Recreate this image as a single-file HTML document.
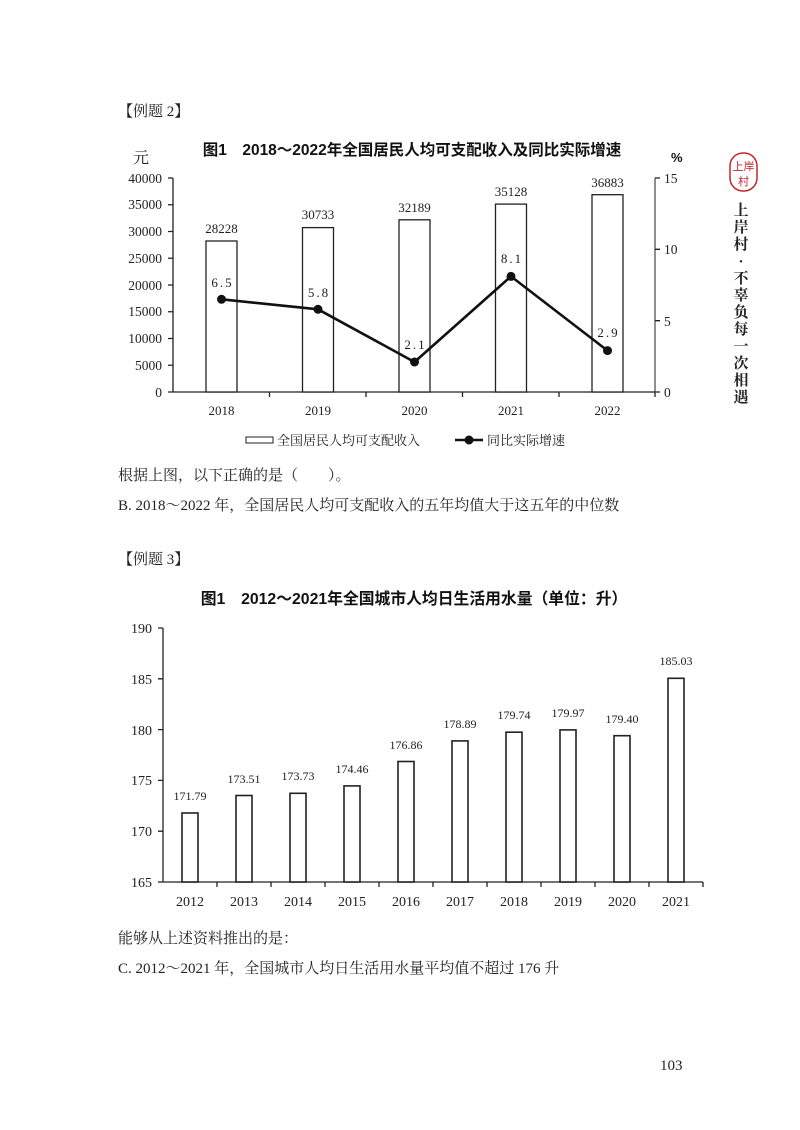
<!DOCTYPE html>
<html><head><meta charset="utf-8"><style>
body{margin:0;background:#fff}
svg{display:block}
.s{font-family:"Liberation Serif","Noto Serif CJK SC",serif;fill:#222}
.b{font-family:"Liberation Sans","Noto Sans CJK SC",sans-serif;font-weight:bold;fill:#111}
</style></head><body>
<svg width="800" height="1130" viewBox="0 0 800 1130" xmlns="http://www.w3.org/2000/svg">
<rect width="800" height="1130" fill="#fff"/>
<text class="s" x="118" y="116" font-size="15">【例题 2】</text>
<text class="b" x="412" y="155" font-size="15.5" text-anchor="middle">图1　2018～2022年全国居民人均可支配收入及同比实际增速</text>
<text class="s" x="133" y="163" font-size="16">元</text>
<text class="b" x="671" y="162" font-size="13">%</text>
<g stroke="#222" stroke-width="1.3" fill="none">
<line x1="173" y1="178" x2="173" y2="392"/>
<line x1="655" y1="178" x2="655" y2="392" stroke="#555"/>
<line x1="173" y1="392" x2="655" y2="392"/>
<path d="M168 178h5M168 204.75h5M168 231.5h5M168 258.25h5M168 285h5M168 311.75h5M168 338.5h5M168 365.25h5M168 392h5"/>
<path d="M655 178h5M655 249.3h5M655 320.7h5M655 392h5"/>
<path d="M269.5 392v5M366 392v5M462.5 392v5M559 392v5M655 392v5"/>
<rect x="206" y="241" width="31" height="151" fill="#fff"/>
<rect x="302.5" y="227.6" width="31" height="164.4" fill="#fff"/>
<rect x="399" y="219.8" width="31" height="172.2" fill="#fff"/>
<rect x="495.5" y="204.1" width="31" height="187.9" fill="#fff"/>
<rect x="592" y="194.7" width="31" height="197.3" fill="#fff"/>
<polyline points="221.5,299.3 318,309.3 414.5,362 511,276.4 607.5,350.6" stroke="#111" stroke-width="2.6"/>
</g>
<g fill="#111"><circle cx="221.5" cy="299.3" r="4.5"/><circle cx="318" cy="309.3" r="4.5"/><circle cx="414.5" cy="362" r="4.5"/><circle cx="511" cy="276.4" r="4.5"/><circle cx="607.5" cy="350.6" r="4.5"/></g>
<g class="s" font-size="13.5" text-anchor="end">
<text x="162" y="183">40000</text><text x="162" y="209">35000</text><text x="162" y="236">30000</text><text x="162" y="263">25000</text><text x="162" y="290">20000</text><text x="162" y="316">15000</text><text x="162" y="343">10000</text><text x="162" y="370">5000</text><text x="162" y="397">0</text>
</g>
<g class="s" font-size="13.5">
<text x="664" y="183">15</text><text x="664" y="254">10</text><text x="664" y="326">5</text><text x="664" y="397">0</text>
</g>
<g class="s" font-size="13" text-anchor="middle">
<text x="221.5" y="233">28228</text><text x="318" y="219">30733</text><text x="414.5" y="212">32189</text><text x="511" y="196">35128</text><text x="607.5" y="187">36883</text>
<text x="221.5" y="415">2018</text><text x="318" y="415">2019</text><text x="414.5" y="415">2020</text><text x="511" y="415">2021</text><text x="607.5" y="415">2022</text>
</g>
<g class="s" font-size="13" text-anchor="middle" letter-spacing="2">
<text x="222.5" y="287">6.5</text><text x="319" y="297">5.8</text><text x="415.5" y="349">2.1</text><text x="512" y="263">8.1</text><text x="608.5" y="337">2.9</text>
</g>
<rect x="246" y="437" width="27" height="6" fill="#fff" stroke="#222" stroke-width="1"/>
<text class="s" x="277" y="445" font-size="13">全国居民人均可支配收入</text>
<line x1="455" y1="440" x2="483" y2="440" stroke="#111" stroke-width="2.6"/><circle cx="469" cy="440" r="4.5" fill="#111"/>
<text class="s" x="487" y="445" font-size="13">同比实际增速</text>
<text class="s" x="118" y="480" font-size="15">根据上图，以下正确的是（　　）。</text>
<text class="s" x="118" y="510" font-size="15">B. 2018～2022 年，全国居民人均可支配收入的五年均值大于这五年的中位数</text>
<text class="s" x="118" y="564" font-size="15">【例题 3】</text>
<text class="b" x="414" y="604" font-size="15.8" text-anchor="middle">图1　2012～2021年全国城市人均日生活用水量（单位：升）</text>
<g stroke="#222" stroke-width="1.3" fill="none">
<line x1="163" y1="628" x2="163" y2="882"/>
<line x1="163" y1="882" x2="703" y2="882"/>
<path d="M158 628h5M158 678.8h5M158 729.6h5M158 780.4h5M158 831.2h5M158 882h5"/>
<path d="M217 882v5M271 882v5M325 882v5M379 882v5M433 882v5M487 882v5M541 882v5M595 882v5M649 882v5M703 882v5"/>
<rect x="182" y="813" width="16" height="69" fill="#fff" stroke-width="1.6"/>
<rect x="236" y="795.5" width="16" height="86.5" fill="#fff" stroke-width="1.6"/>
<rect x="290" y="793.3" width="16" height="88.7" fill="#fff" stroke-width="1.6"/>
<rect x="344" y="785.9" width="16" height="96.1" fill="#fff" stroke-width="1.6"/>
<rect x="398" y="761.5" width="16" height="120.5" fill="#fff" stroke-width="1.6"/>
<rect x="452" y="740.9" width="16" height="141.1" fill="#fff" stroke-width="1.6"/>
<rect x="506" y="732.2" width="16" height="149.8" fill="#fff" stroke-width="1.6"/>
<rect x="560" y="729.9" width="16" height="152.1" fill="#fff" stroke-width="1.6"/>
<rect x="614" y="735.7" width="16" height="146.3" fill="#fff" stroke-width="1.6"/>
<rect x="668" y="678.3" width="16" height="203.7" fill="#fff" stroke-width="1.6"/>
</g>
<g class="s" font-size="14" text-anchor="end">
<text x="152" y="633">190</text><text x="152" y="684">185</text><text x="152" y="735">180</text><text x="152" y="785">175</text><text x="152" y="836">170</text><text x="152" y="887">165</text>
</g>
<g class="s" font-size="12" text-anchor="middle">
<text x="190" y="800">171.79</text><text x="244" y="783">173.51</text><text x="298" y="780">173.73</text><text x="352" y="773">174.46</text><text x="406" y="749">176.86</text><text x="460" y="728">178.89</text><text x="514" y="719">179.74</text><text x="568" y="717">179.97</text><text x="622" y="723">179.40</text><text x="676" y="665">185.03</text>
</g>
<g class="s" font-size="14" text-anchor="middle">
<text x="190" y="906">2012</text><text x="244" y="906">2013</text><text x="298" y="906">2014</text><text x="352" y="906">2015</text><text x="406" y="906">2016</text><text x="460" y="906">2017</text><text x="514" y="906">2018</text><text x="568" y="906">2019</text><text x="622" y="906">2020</text><text x="676" y="906">2021</text>
</g>
<text class="s" x="118" y="943" font-size="15">能够从上述资料推出的是：</text>
<text class="s" x="118" y="973" font-size="15">C. 2012～2021 年，全国城市人均日生活用水量平均值不超过 176 升</text>
<text class="s" x="660" y="1070" font-size="15">103</text>
<rect x="730" y="153" width="27" height="38" rx="13" fill="none" stroke="#c0272d" stroke-width="1.5"/>
<text x="743.5" y="170" font-size="11" fill="#c0272d" text-anchor="middle" font-family="Noto Sans CJK SC,sans-serif">上岸</text>
<text x="743.5" y="185" font-size="11" fill="#c0272d" text-anchor="middle" font-family="Noto Sans CJK SC,sans-serif">村</text>
<g class="s" font-size="15" font-weight="bold" text-anchor="middle" fill="#222">
<text x="741" y="215">上</text><text x="741" y="232">岸</text><text x="741" y="249">村</text><text x="741" y="266">·</text><text x="741" y="283">不</text><text x="741" y="300">辜</text><text x="741" y="317">负</text><text x="741" y="334">每</text><text x="741" y="351">一</text><text x="741" y="368">次</text><text x="741" y="385">相</text><text x="741" y="402">遇</text>
</g>
</svg>
</body></html>
